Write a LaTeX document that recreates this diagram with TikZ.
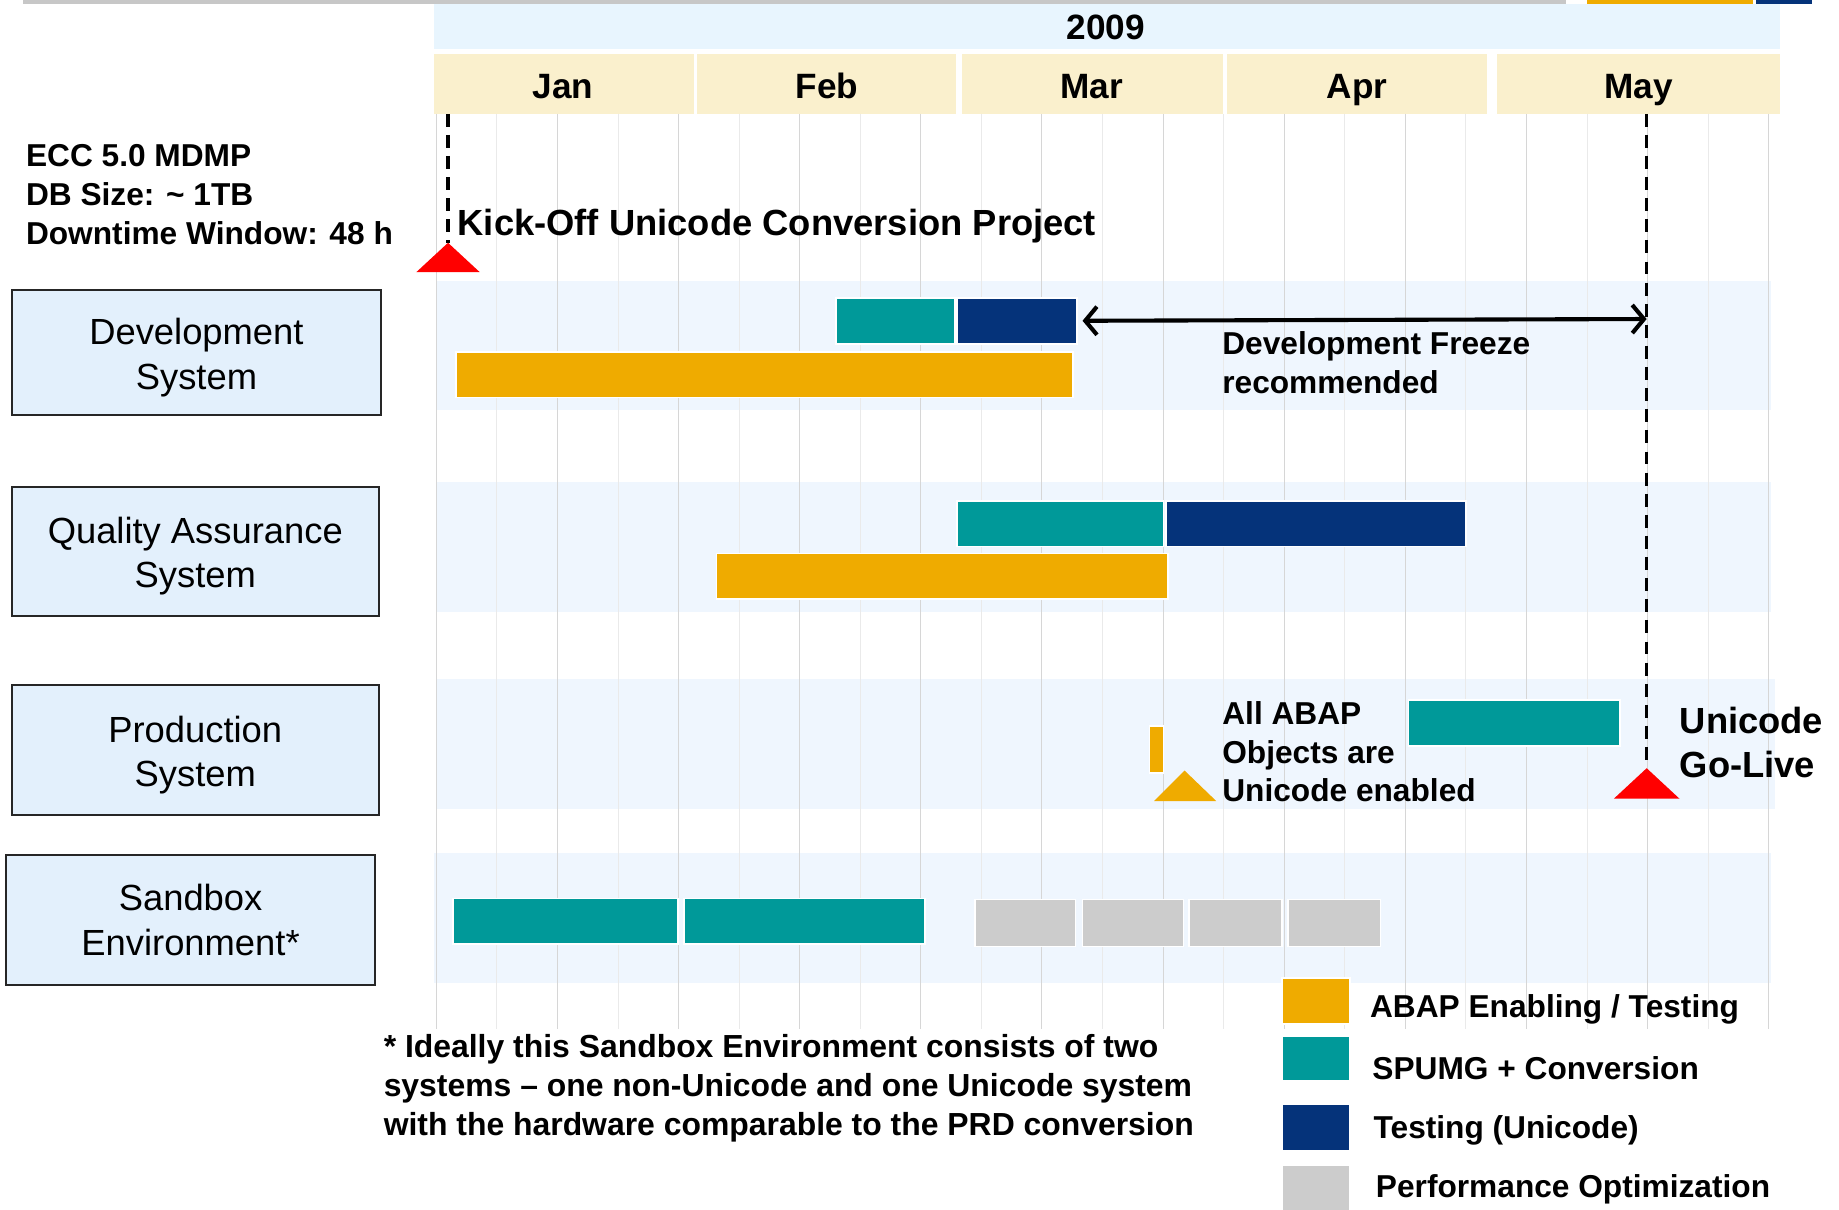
\documentclass[tikz,border=0pt]{standalone}
\usepackage{fontspec}
\setmainfont{Liberation Sans}
\usetikzlibrary{arrows.meta}
\definecolor{abap}{HTML}{EFAB00}
\definecolor{spumg}{HTML}{009999}
\definecolor{utest}{HTML}{05337A}
\definecolor{perf}{HTML}{CCCCCC}
\definecolor{yearbg}{HTML}{E8F5FE}
\definecolor{monthbg}{HTML}{FAF0CD}
\definecolor{bandbg}{HTML}{EFF6FE}
\definecolor{sysbg}{HTML}{E3F0FC}
\definecolor{gridmain}{HTML}{D6D6D6}
\definecolor{gridsub}{HTML}{EAEAEA}
\newcommand\ganttbar[6]{\node[barbox,fill=#6,minimum width={(#4-#2)*1pt},minimum height={(#5-#3)*1pt}] (#1) at ({(#2+#4)/2},{(#3+#5)/2}) {};}
\newcommand\plainrect[6]{\node[rectangle,draw=none,fill=#6,inner sep=0pt,outer sep=0pt,minimum width={(#4-#2)*1pt},minimum height={(#5-#3)*1pt}] (#1) at ({(#2+#4)/2},{(#3+#5)/2}) {};}
\newcommand\topstrut{\rule{0pt}{31pt}}
\begin{document}
\begin{tikzpicture}[x=1pt,y=-1pt,
  barbox/.style={rectangle,draw=white,line width=1.5pt,inner sep=0pt,outer sep=0pt},
  sysbox/.style={rectangle,draw=black!85,line width=2pt,fill=sysbg,align=center,inner sep=0pt,
    font=\fontsize{31}{38}\selectfont},
  hdr/.style={font=\bfseries\fontsize{30}{36}\selectfont,inner sep=0pt,anchor=base},
  lbl/.style={font=\bfseries\fontsize{27}{33}\selectfont,align=left,inner sep=0pt,anchor=west},
  dashline/.style={line width=3pt,dash pattern=on 11pt off 7pt},
  tri/.style={draw=none}]
\useasboundingbox (0,0) rectangle (1568,1031);
% top strip
\plainrect{topgray}{20}{0}{1335}{3}{black!22}
\plainrect{toporange}{1353}{0}{1495}{3}{abap}
\plainrect{topnavy}{1497}{0}{1545}{3}{utest}
% headers
\plainrect{year}{370}{3}{1518}{42}{yearbg}
\node[hdr] (tyear) at (943,34) {2009};
\plainrect{jan}{370}{46}{592}{97}{monthbg}
\plainrect{feb}{594}{46}{815}{97}{monthbg}
\plainrect{mar}{820}{46}{1043}{97}{monthbg}
\plainrect{apr}{1046}{46}{1268}{97}{monthbg}
\plainrect{may}{1276}{46}{1518}{97}{monthbg}
\node[hdr] (tjan) at (480,84) {Jan};
\node[hdr] (tfeb) at (705,84) {Feb};
\node[hdr] (tmar) at (931,84) {Mar};
\node[hdr] (tapr) at (1157,84) {Apr};
\node[hdr] (tmay) at (1397,84) {May};
% bands
\plainrect{banddev}{372}{240}{1510}{350}{bandbg}
\plainrect{bandqa}{372}{411}{1510}{522}{bandbg}
\plainrect{bandprd}{372}{579}{1513}{690}{bandbg}
\plainrect{bandsbx}{370}{727}{1510}{838}{bandbg}
% grid
\foreach \i in {0,...,22}{
  \pgfmathsetmacro\xx{372+\i*51.64}
  \ifodd\i
    \draw[gridsub,line width=0.8pt] (\xx,97) -- (\xx,877);
  \else
    \draw[gridmain,line width=0.8pt] (\xx,97) -- (\xx,877);
  \fi
}
% system boxes
\node[sysbox,minimum width=315pt,minimum height=107pt] (dev) at (167.5,300.5) {\topstrut Development\\System};
\node[sysbox,minimum width=313pt,minimum height=110pt] (qa) at (166.5,470) {\topstrut Quality Assurance\\System};
\node[sysbox,minimum width=313pt,minimum height=111pt] (prd) at (166.5,639.5) {\topstrut Production\\System};
\node[sysbox,minimum width=315pt,minimum height=111pt] (sbx) at (162.5,784.5) {Sandbox\\Environment*};
% bars development
\ganttbar{devspumg}{713}{254}{814}{293}{spumg}
\ganttbar{devtest}{816}{254}{918}{293}{utest}
\ganttbar{devabap}{389}{300}{915}{339}{abap}
% bars QA
\ganttbar{qaspumg}{816}{427}{992}{466}{spumg}
\ganttbar{qatest}{994}{427}{1250}{466}{utest}
\ganttbar{qaabap}{611}{472}{996}{511}{abap}
% bars production
\ganttbar{prdabap}{980}{619}{992}{659}{abap}
\ganttbar{prdspumg}{1201}{597}{1381}{636}{spumg}
% bars sandbox
\ganttbar{sbx1}{386}{766}{578}{805}{spumg}
\ganttbar{sbx2}{583}{766}{789}{805}{spumg}
\ganttbar{sbx3}{831}{767}{917}{807}{perf}
\ganttbar{sbx4}{923}{767}{1009}{807}{perf}
\ganttbar{sbx5}{1014}{767}{1093}{807}{perf}
\ganttbar{sbx6}{1098}{767}{1177}{807}{perf}
% milestones
\coordinate (kotop) at (382,97);
\coordinate (koapex) at (382,207);
\fill[red] (355,232) -- (koapex) -- (409,232) -- cycle;
\coordinate (gltop) at (1404,97);
\coordinate (glapex) at (1404,655);
\fill[red] (1376,681) -- (glapex) -- (1432,681) -- cycle;
\coordinate (abapapex) at (1010,657);
\fill[abap] (984,683) -- (abapapex) -- (1037,683) -- cycle;
\draw[dashline] (kotop) -- (koapex);
\draw[dashline] (gltop) -- (glapex);
\coordinate (frz) at (1404,272);
\draw[line width=3.5pt,{Straight Barb[length=10pt,width=24pt]}-{Straight Barb[length=10pt,width=24pt]}] ([xshift=5pt]devtest.east) -- (frz);
% texts
\node[lbl] (info) at (22,166) {ECC 5.0 MDMP\\DB Size: \textasciitilde{} 1TB\\Downtime Window: 48 h};
\node[lbl,font=\bfseries\fontsize{31}{36}\selectfont] (kickoff) at (390,193) {Kick-Off Unicode Conversion Project};
\node[lbl] (freeze) at (1042,309) {Development Freeze\\recommended};
\node[lbl] (allabap) at (1042,641) {All ABAP\\Objects are\\Unicode enabled};
\node[lbl,font=\bfseries\fontsize{31}{38}\selectfont] (golive) at (1432,633) {Unicode\\Go-Live};
\node[lbl,font=\bfseries\fontsize{27.2}{33}\selectfont] (foot) at (327,928) {* Ideally this Sandbox Environment consists of two\\systems -- one non-Unicode and one Unicode system\\with the hardware comparable to the PRD conversion};
% legend
\ganttbar{lgabap}{1093}{834}{1151}{873}{abap}
\ganttbar{lgspumg}{1093}{883}{1151}{922}{spumg}
\ganttbar{lgtest}{1093}{941}{1151}{981}{utest}
\ganttbar{lgperf}{1093}{993}{1151}{1033}{perf}
\node[lbl] (tlgabap) at (1168,861) {ABAP Enabling / Testing};
\node[lbl] (tlgspumg) at (1170,911) {SPUMG + Conversion};
\node[lbl] (tlgtest) at (1171,964) {Testing (Unicode)};
\node[lbl] (tlgperf) at (1173,1014) {Performance Optimization};
\end{tikzpicture}
\end{document}
